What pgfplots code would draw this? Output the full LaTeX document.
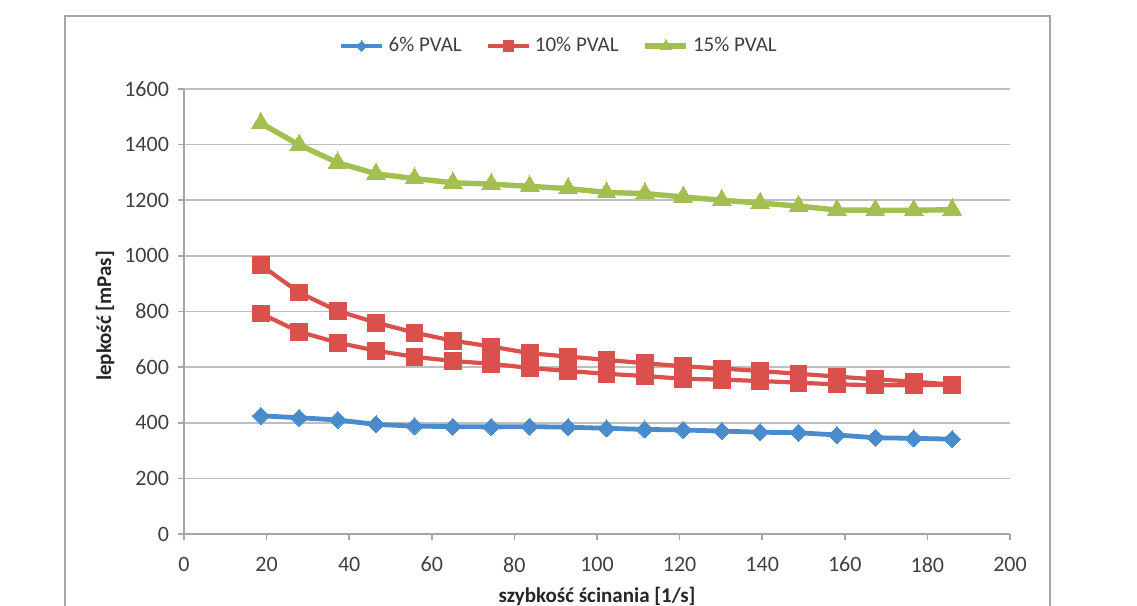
\documentclass[border=0pt]{standalone}
\usepackage{fontspec}
\setmainfont{Carlito}
\usepackage{pgfplots}
\pgfplotsset{compat=1.18}
\definecolor{cblue}{HTML}{4A8CCB}
\definecolor{cred}{HTML}{D9504C}
\definecolor{cgreen}{HTML}{A3BF4F}
\definecolor{cgrid}{HTML}{BEBEBE}
\definecolor{caxis}{HTML}{A6A6A6}
\definecolor{ctxt}{HTML}{404040}
\begin{document}
\begin{tikzpicture}[x=1pt,y=1pt]
\useasboundingbox (-92,-36) rectangle (476.5,267);
\draw[color=caxis, line width=1pt] (-59.5,-40) -- (-59.5,259) -- (433,259) -- (433,-40);
\begin{axis}[
  at={(0,0)}, anchor=south west,
  scale only axis, width=413pt, height=222.5pt,
  xmin=0, xmax=200, ymin=0, ymax=1600,
  xtick={0,20,...,200}, ytick={0,200,...,1600},
  axis lines=left,
  axis line style={-, draw=caxis, line width=0.8pt},
  tick align=outside, major tick length=3pt,
  tick style={draw=caxis, line width=0.8pt},
  ymajorgrids, grid style={draw=cgrid, line width=0.8pt},
  /pgf/number format/assume math mode=true,
  /pgf/number format/1000 sep={},
  tick label style={font=\fontsize{11}{13}\selectfont, text=ctxt},
  xticklabel style={yshift=-5pt},
  yticklabel style={xshift=-1pt},
  xlabel={\bfseries szybkość ścinania [1/s]},
  ylabel={\bfseries lepkość [mPas]},
  label style={font=\fontsize{10.5}{12}\selectfont, text=black!85},
  xlabel style={at={(axis description cs:0.5,-0.1393)}, anchor=center},
  ylabel style={at={(axis description cs:-0.0956,0.49)}, anchor=center, rotate=0},
  legend style={at={(axis description cs:0.455,1.0966)}, anchor=center, draw=none,
    legend columns=3, font=\fontsize{10.5}{12}\selectfont, text=ctxt,
    /tikz/every even column/.append style={column sep=10pt}},
  legend image code/.code={\draw[mark repeat=2,mark phase=2, every mark/.append style={scale=0.6}] plot coordinates {(0pt,0pt) (10.25pt,0pt) (20.5pt,0pt)};},
  clip=false,
]
\addplot[cblue, line width=2.4pt, mark=square*, mark size=3pt, mark options={rotate=45, fill=cblue, draw=cblue, line width=0pt}] coordinates {
(18.6,425) (27.9,418) (37.2,410) (46.5,394) (55.8,388) (65.1,386) (74.4,385)
(83.7,386) (93.0,384) (102.3,380) (111.6,376) (120.9,374) (130.2,370)
(139.5,366) (148.8,364) (158.1,356) (167.4,346) (176.7,344) (186.0,341)
};
\addlegendentry{6\% PVAL}
\addplot[cred, line width=2.1pt, mark=square*, mark size=4.2pt, mark options={fill=cred, draw=cred, line width=0pt}] coordinates {
(18.6,793) (27.9,727) (37.2,688) (46.5,659) (55.8,637) (65.1,622) (74.4,612)
(83.7,597) (93.0,586) (102.3,576) (111.6,568) (120.9,558) (130.2,555)
(139.5,550) (148.8,544) (158.1,538) (167.4,535) (176.7,535) (186.0,537)
(176.7,548) (167.4,556) (158.1,566) (148.8,576) (139.5,586) (130.2,595)
(120.9,603) (111.6,614) (102.3,626) (93.0,638) (83.7,650) (74.4,674)
(65.1,695) (55.8,724) (46.5,760) (37.2,802) (27.9,868) (18.6,967)
};
\addlegendentry{10\% PVAL}
\addplot[cgreen, line width=2.7pt, mark=triangle*, mark size=5.4pt, mark options={fill=cgreen, draw=cgreen, line width=0pt}] coordinates {
(18.6,1477) (27.9,1399) (37.2,1335) (46.5,1295) (55.8,1278) (65.1,1263) (74.4,1258)
(83.7,1250) (93.0,1242) (102.3,1228) (111.6,1224) (120.9,1212) (130.2,1200)
(139.5,1190) (148.8,1179) (158.1,1165) (167.4,1164) (176.7,1164) (186.0,1166)
};
\addlegendentry{15\% PVAL}
\end{axis}
\end{tikzpicture}
\end{document}
